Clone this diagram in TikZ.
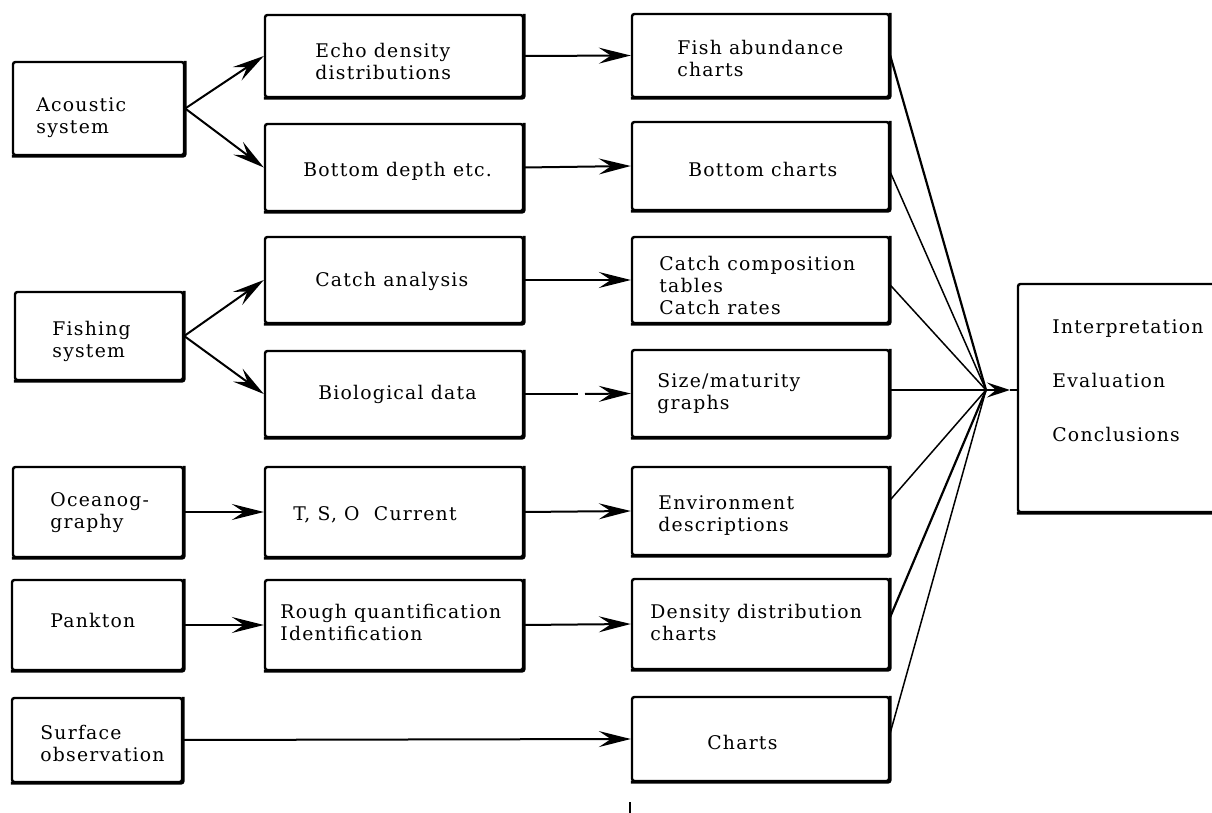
\documentclass[tikz,border=0pt]{standalone}
\usepackage{fontspec}
\newfontfamily\chartfont{DejaVu Serif}[LetterSpace=6.5]
\usetikzlibrary{arrows.meta}
\begin{document}
\begin{tikzpicture}[x=0.5pt,y=-0.5pt,
  chartbox/.style={draw, line width=1.2pt, rounded corners=1.2pt, inner sep=0pt},
  heavyedge/.style={line width=1.5pt, rounded corners=1.2pt, xshift=0.25pt, yshift=-0.25pt},
  txt/.style={anchor=north west, inner sep=0pt, align=left,
    font=\chartfont\fontsize{9.4pt}{11pt}\selectfont},
  flow/.style={line width=1pt, -{Stealth[length=16pt,width=8pt,inset=6pt]}},
  hubflow/.style={line width=1pt, -{Stealth[length=11.5pt,width=7.5pt,inset=4.5pt]}},
  feed/.style={line width=0.75pt},
  thickfeed/.style={line width=1.1pt}]

\useasboundingbox (0,0) rectangle (1212,813);
\clip (0,0) rectangle (1212,813);

% sources
\node[chartbox, minimum width=85.5pt, minimum height=46.5pt] (acou) at (98.5,108.5) {};
\node[chartbox, minimum width=84pt,   minimum height=44pt]   (fishs) at (99,336) {};
\node[chartbox, minimum width=85pt,   minimum height=45pt]   (ocean) at (98,512) {};
\node[chartbox, minimum width=85.5pt, minimum height=45pt]   (plank) at (97.5,625) {};
\node[chartbox, minimum width=85pt,   minimum height=42pt]   (surf) at (97,740) {};

% processing
\node[chartbox, minimum width=129pt, minimum height=41pt]   (echo)  at (394,56) {};
\node[chartbox, minimum width=129pt, minimum height=43.5pt] (depth) at (394,167.5) {};
\node[chartbox, minimum width=129pt, minimum height=43pt]   (catch) at (394,280) {};
\node[chartbox, minimum width=129pt, minimum height=43pt]   (bio)   at (394,394) {};
\node[chartbox, minimum width=129pt, minimum height=45pt]   (tso)   at (394,512) {};
\node[chartbox, minimum width=129pt, minimum height=45pt]   (rough) at (394,625) {};

% products
\node[chartbox, minimum width=128.5pt, minimum height=41.5pt] (fishab) at (760.5,55.5) {};
\node[chartbox, minimum width=128.5pt, minimum height=44pt]   (botch)  at (760.5,166) {};
\node[chartbox, minimum width=128.5pt, minimum height=43pt]   (comp)   at (760.5,280) {};
\node[chartbox, minimum width=128.5pt, minimum height=43.5pt] (size)   at (760.5,393.5) {};
\node[chartbox, minimum width=128.5pt, minimum height=44pt]   (env)    at (760.5,511) {};
\node[chartbox, minimum width=128.5pt, minimum height=45pt]   (dens)   at (760.5,624) {};
\node[chartbox, minimum width=128.5pt, minimum height=42pt]   (charts) at (760.5,739) {};

% final stage
\node[chartbox, minimum width=103pt, minimum height=114pt] (interp) at (1121,398) {};

% heavier lower and right edges
\foreach \b in {acou,fishs,ocean,plank,surf,echo,depth,catch,bio,tso,rough,
                fishab,botch,comp,size,env,dens,charts,interp}
  \draw[heavyedge] (\b.north east) -- (\b.south east) -- (\b.south west);

% texts
\node[txt] (acou-t)  at (36,97)  {Acoustic\\system};
\node[txt] (fishs-t) at (52,321) {Fishing\\system};
\node[txt] (ocean-t) at (50,492) {Oceanog-\\graphy};
\node[txt] (plank-t) at (50,613) {Pankton};
\node[txt] (surf-t)  at (40,725) {Surface\\observation};

\node[txt] (echo-t)  at (315,43)  {Echo density\\distributions};
\node[txt] (depth-t) at (303,162) {Bottom depth etc.};
\node[txt] (catch-t) at (315,272) {Catch analysis};
\node[txt] (bio-t)   at (318,385) {Biological data};
\node[txt] (tso-t)   at (293,506) {T, S, O\ \ Current};
\node[txt] (rough-t) at (280,604) {Rough quantification\\Identification};

\node[txt] (fishab-t) at (677,40)  {Fish abundance\\charts};
\node[txt] (botch-t)  at (688,162) {Bottom charts};
\node[txt] (comp-t)   at (659,256) {Catch composition\\tables\\Catch rates};
\node[txt] (size-t)   at (657,373) {Size/maturity\\graphs};
\node[txt] (env-t)    at (658,495) {Environment\\descriptions};
\node[txt] (dens-t)   at (650,604) {Density distribution\\charts};
\node[txt] (charts-t) at (707,735) {Charts};

\node[txt] (interp-t) at (1052,319) {Interpretation\\[16pt]Evaluation\\[16pt]Conclusions};

% sources to processing
\draw[flow] (acou.east) -- (echo.west);
\draw[flow] (acou.east) -- (depth.west);
\draw[flow] (fishs.east) -- (catch.west);
\draw[flow] (fishs.east) -- (bio.west);
\draw[flow] (ocean.east) -- (tso.west);
\draw[flow] (plank.east) -- (rough.west);
\draw[flow] (surf.east) -- (charts.west);

% processing to products
\coordinate (bgapa) at (578,394);
\coordinate (bgapb) at (585,394);
\draw[flow] (echo.east) -- (fishab.west);
\draw[flow] (depth.east) -- (botch.west);
\draw[flow] (catch.east) -- (comp.west);
\draw[line width=1pt] (bio.east) -- (bgapa);
\draw[flow] (bgapb) -- (size.west);
\draw[flow] (tso.east) -- (env.west);
\draw[flow] (rough.east) -- (dens.west);

% products converge on the final stage
\coordinate (hub) at (986,390);
\coordinate (hubtip) at (1010,390);
\draw[thickfeed] (fishab.east) -- (hub);
\draw[feed] ([yshift=-3pt]botch.east) -- (hub);
\draw[feed] ([yshift=-2.5pt]comp.east) -- (hub);
\draw[feed] (size.east |- hub) -- (hub);
\draw[feed] ([yshift=5.5pt]env.east) -- (hub);
\draw[thickfeed] ([yshift=3.5pt]dens.east) -- (hub);
\draw[feed] ([yshift=3pt]charts.east) -- (hub);
\draw[hubflow] (hub) -- (hubtip);
\draw[line width=1pt] (hubtip) -- (interp.west |- hub);

% stub below the charts box
\coordinate (stubt) at (630,802);
\coordinate (stubb) at (630,816);
\draw[line width=1pt] (stubt) -- (stubb);
\end{tikzpicture}
\end{document}
